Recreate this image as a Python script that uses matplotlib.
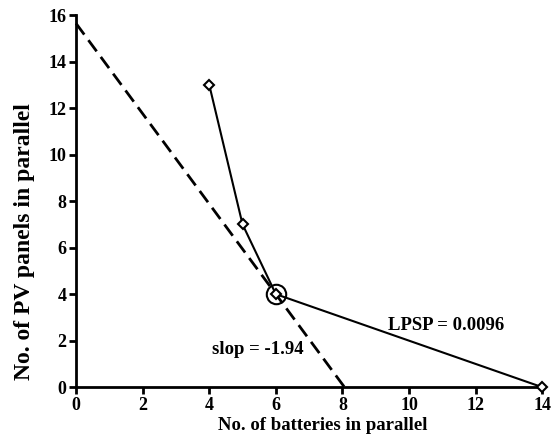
import matplotlib
matplotlib.use('Agg')
import matplotlib.pyplot as plt
import numpy as np

batteries = [4, 5, 6, 14]
pv_panels = [13, 7, 4, 0]

opt_batteries = 6
opt_panels = 4
slope = -1.94

# tangent line through the optimum point
tan_x = np.array([0, opt_batteries - opt_panels / slope])
tan_y = opt_panels + slope * (tan_x - opt_batteries)

plt.rcParams['font.family'] = 'Liberation Serif'
plt.rcParams['font.weight'] = 'bold'

fig = plt.figure(figsize=(5.55, 4.42), dpi=100)
ax = fig.add_axes([0.137, 0.124, 0.840, 0.842])

ax.plot(tan_x, tan_y, color='black', linestyle=(0, (5, 2.5)), linewidth=2, clip_on=False)
ax.plot(batteries, pv_panels, color='black', linewidth=1.5, marker='D', markersize=5.5,
        markerfacecolor='white', markeredgewidth=1.5, clip_on=False, zorder=3)
ax.plot(opt_batteries, opt_panels, marker='o', markersize=14, markerfacecolor='none',
        markeredgecolor='black', markeredgewidth=1.5, zorder=4)

ax.text(5.45, 1.6, 'slop = -1.94', fontsize=13.5, fontweight='bold', ha='center', va='center')
ax.text(11.1, 2.65, 'LPSP = 0.0096', fontsize=13.5, fontweight='bold', ha='center', va='center')

ax.set_xlim(0, 14)
ax.set_ylim(0, 16)
ax.set_xticks(range(0, 15, 2))
ax.set_yticks(range(0, 17, 2))
ax.set_xlabel('No. of batteries in parallel', fontsize=13.5, fontweight='bold')
ax.set_ylabel('No. of PV panels in parallel', fontsize=17, fontweight='bold')
ax.xaxis.set_label_coords(0.53, -0.08)
ax.yaxis.set_label_coords(-0.088, 0.39)

ax.spines['top'].set_visible(False)
ax.spines['right'].set_visible(False)
ax.spines['left'].set_linewidth(2)
ax.spines['bottom'].set_linewidth(2)
ax.tick_params(direction='out', length=5, width=2, labelsize=13, pad=2)

plt.savefig('out.png', dpi=100)
